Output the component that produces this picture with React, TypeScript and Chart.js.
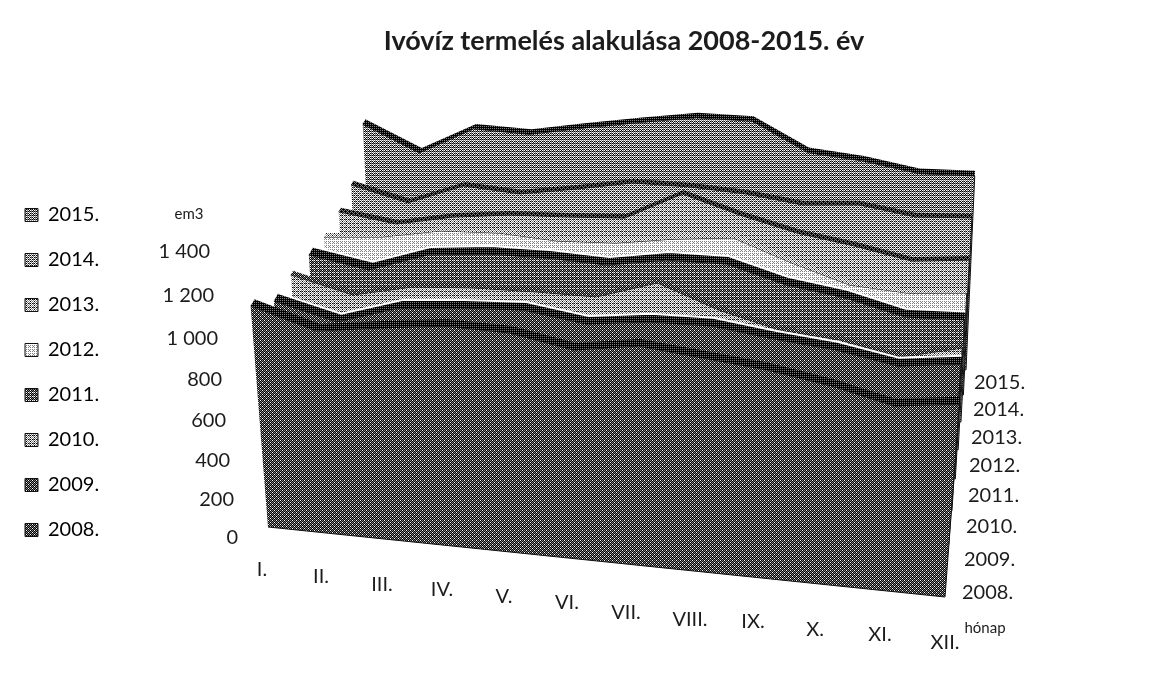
import React, { useEffect, useRef } from "react";
import { Chart, registerables, LinearScale } from "chart.js";

const months = ["I.", "II.", "III.", "IV.", "V.", "VI.", "VII.", "VIII.", "IX.", "X.", "XI.", "XII."];
const years = ["2008.", "2009.", "2010.", "2011.", "2012.", "2013.", "2014.", "2015."];
const axisTicks = [0, 200, 400, 600, 800, 1000, 1200, 1400];
const axisTickLabels = ["0", "200", "400", "600", "800", "1 000", "1 200", "1 400"];

const v2008 = [1105, 1012, 1059, 1100, 1098, 1044, 1096, 1068, 1040, 992, 923, 965];
const v2009 = [902, 827, 929, 961, 982, 942, 984, 995, 960, 935, 884, 926];
const v2010 = [883, 810, 883, 909, 920, 925, 1029, 920, 847, 826, 769, 847];
const v2011 = [840, 792, 902, 938, 948, 942, 999, 1009, 930, 892, 823, 839];
const v2012 = [799, 830, 893, 913, 901, 921, 973, 1010, 907, 820, 807, 839];
const v2013 = [801, 766, 834, 876, 896, 921, 1082, 998, 931, 892, 841, 877];
const v2014 = [818, 750, 873, 860, 917, 981, 990, 982, 952, 983, 947, 972];
const v2015 = [1033, 903, 1067, 1067, 1133, 1194, 1250, 1261, 1117, 1100, 1061, 1078];
const seriesValues = [v2008, v2009, v2010, v2011, v2012, v2013, v2014, v2015];

// Appearance of the eight layers (front to back): tone of the face and of its top ribbon.
const faceTone = [0.33, 0.29, 0.62, 0.36, 0.84, 0.62, 0.58, 0.5];
const ribbonTone = [0.1, 0.04, 0.3, 0.04, 0.7, 0.2, 0.18, 0.06];
const ribbonDepth = [0.035, 0.04, 0.02, 0.04, 0.02, 0.02, 0.02, 0.025];
const whiteEdge = [false, true, false, true, false, false, false, false];

// Projection of the 3-D category/depth/value space to the page.
const depthT = [0, 0.229, 0.379, 0.52, 0.648, 0.771, 0.89, 1];
const depthTx = [0, 0.179, 0.33, 0.49, 0.625, 0.76, 0.875, 1];
const corner = { fl: [268, 527], fr: [945, 597], bl: [372, 310], br: [966, 370] };
function project(m: number, i: number, value: number, extra = 0) {
  const u = m / 11;
  const t = depthT[i] + extra;
  const tx = depthTx[i] + extra;
  const bx = (corner.fl[0] + (corner.fr[0] - corner.fl[0]) * u) * (1 - tx) + (corner.bl[0] + (corner.br[0] - corner.bl[0]) * u) * tx;
  const by = (corner.fl[1] + (corner.fr[1] - corner.fl[1]) * u) * (1 - t) + (corner.bl[1] + (corner.br[1] - corner.bl[1]) * u) * t;
  const s = 0.2 - 0.02 * t;
  const lean = (-0.0786 + 0.153 * u) * (1 - t) + (-0.05 + 0.095 * u) * t;
  const h = value * s;
  return { x: bx + lean * h, y: by - h };
}

const BAYER = [
  [0, 8, 2, 10],
  [12, 4, 14, 6],
  [3, 11, 1, 9],
  [15, 7, 13, 5],
];
function halftone(level: number) {
  const c = document.createElement("canvas");
  c.width = 4;
  c.height = 4;
  const g = c.getContext("2d")!;
  for (let y = 0; y < 4; y++) {
    for (let x = 0; x < 4; x++) {
      const thr = (BAYER[y][x] + 0.5) / 16;
      const d = level - thr;
      const v = d > 0.18 ? 255 : d > -0.18 ? 128 : 0;
      g.fillStyle = `rgb(${v},${v},${v})`;
      g.fillRect(x, y, 1, 1);
    }
  }
  return g.createPattern(c, "repeat")!;
}

class TiltedScale extends (LinearScale as any) {
  static id = "tilted";
  static defaults = (LinearScale as any).defaults;
  getPixelForValue(v: number) {
    return 538 - v * 0.1886 - v * v * 1.12e-5;
  }
  _computeLabelItems(area: any) {
    const items = super._computeLabelItems(area);
    items.forEach((it: any, i: number) => {
      const v = (this as any).ticks[i].value;
      it.options.translation = [238 - v * 0.02, this.getPixelForValue(v)];
    });
    return items;
  }
}

Chart.register(...registerables, TiltedScale as any);

const FONT = "Lato";
const INK = "#1c1c1c";
const monthLabelPos = [
  [262, 570], [321, 577], [382, 585], [442, 590], [504, 597], [567, 603],
  [626, 613], [690, 620], [753, 622], [815, 630], [880, 635], [945, 643],
];
const depthLabelPos = [
  [962, 593], [964, 560], [966, 527], [968, 496], [969, 466], [971, 438], [973, 410], [974, 383],
];

const textPlugin = {
  id: "sideText",
  afterDraw(chart: any) {
    const c = chart.ctx;
    c.save();
    c.fillStyle = INK;
    c.textBaseline = "middle";
    c.font = `20px ${FONT}`;
    c.textAlign = "center";
    months.forEach((m, i) => c.fillText(m, monthLabelPos[i][0], monthLabelPos[i][1]));
    c.textAlign = "left";
    years.forEach((y, i) => c.fillText(y, depthLabelPos[i][0], depthLabelPos[i][1]));
    c.font = `15px ${FONT}`;
    c.textAlign = "center";
    c.fillText("em3", 189, 214);
    c.fillText("hónap", 985, 628);
    c.restore();
  },
};

export default function App() {
  const ref = useRef<HTMLCanvasElement>(null);
  useEffect(() => {
    const datasets: any[] = [];
    seriesValues.forEach((vals, i) => {
      const topFront = vals.map((v, m) => project(m, i, v));
      const topBack = vals.map((v, m) => project(m, i, v, ribbonDepth[i]));
      const face = [...topFront, project(11, i, 0), project(0, i, 0)];
      const ribbon = [...topFront, ...topBack.slice().reverse()];
      const common = { showLine: true, pointRadius: 0, tension: 0, clip: false, xAxisID: "x", yAxisID: "y" };
      if (whiteEdge[i]) {
        datasets.push({ ...common, label: years[i] + " edge", data: topBack, borderColor: "#ffffff", borderWidth: 2, fill: false, order: i * 3 });
      }
      datasets.push({ ...common, label: years[i], data: face, borderColor: "#111111", borderWidth: 1, backgroundColor: halftone(faceTone[i]), fill: "shape", order: i * 3 + 2 });
      datasets.push({ ...common, label: years[i] + " top", data: ribbon, borderColor: "rgba(0,0,0,0)", borderWidth: 0, backgroundColor: halftone(ribbonTone[i]), fill: "shape", order: i * 3 + 1 });
    });

    const chart = new Chart(ref.current!, {
      type: "scatter",
      data: { datasets },
      plugins: [textPlugin],
      options: {
        animation: false,
        responsive: false,
        events: [],
        layout: { padding: { right: 157 } },
        scales: {
          x: { type: "linear", min: 245, max: 1003, display: false },
          y: { type: "linear", min: 70, max: 675, reverse: true, display: false },
          yv: {
            type: "tilted",
            position: "left",
            min: 0,
            max: 1400,
            grid: { display: false },
            border: { display: false },
            afterBuildTicks: (s: any) => {
              s.ticks = axisTicks.map((value) => ({ value }));
            },
            afterFit: (s: any) => {
              s.width = 245 - s.chart.legend.width;
              s.paddingTop = 0;
              s.paddingBottom = 0;
            },
            ticks: {
              autoSkip: false,
              color: INK,
              font: { family: FONT, size: 20 },
              callback: (v: any) => axisTickLabels[axisTicks.indexOf(Number(v))],
            },
          },
        } as any,
        plugins: {
          tooltip: { enabled: false },
          title: {
            display: true,
            text: "Ivóvíz termelés alakulása 2008-2015. év",
            color: INK,
            fullSize: false,
            font: { family: FONT, size: 27, weight: "bold", lineHeight: 1.111 },
            padding: { top: 26, bottom: 14 },
          },
          legend: {
            position: "left",
            fullSize: false,
            labels: {
              boxWidth: 13,
              boxHeight: 13,
              padding: 25,
              color: INK,
              font: { family: FONT, size: 20 },
              generateLabels: () =>
                years
                  .map((y, i) => ({ text: y, fillStyle: halftone(faceTone[i]) as any, strokeStyle: "#111", lineWidth: 1, hidden: false, datasetIndex: i }))
                  .reverse(),
            },
          },
        },
      } as any,
    });
    return () => chart.destroy();
  }, []);
  return <canvas ref={ref} width={1160} height={675} style={{ position: "absolute", left: 0, top: 0, display: "block" }} />;
}
